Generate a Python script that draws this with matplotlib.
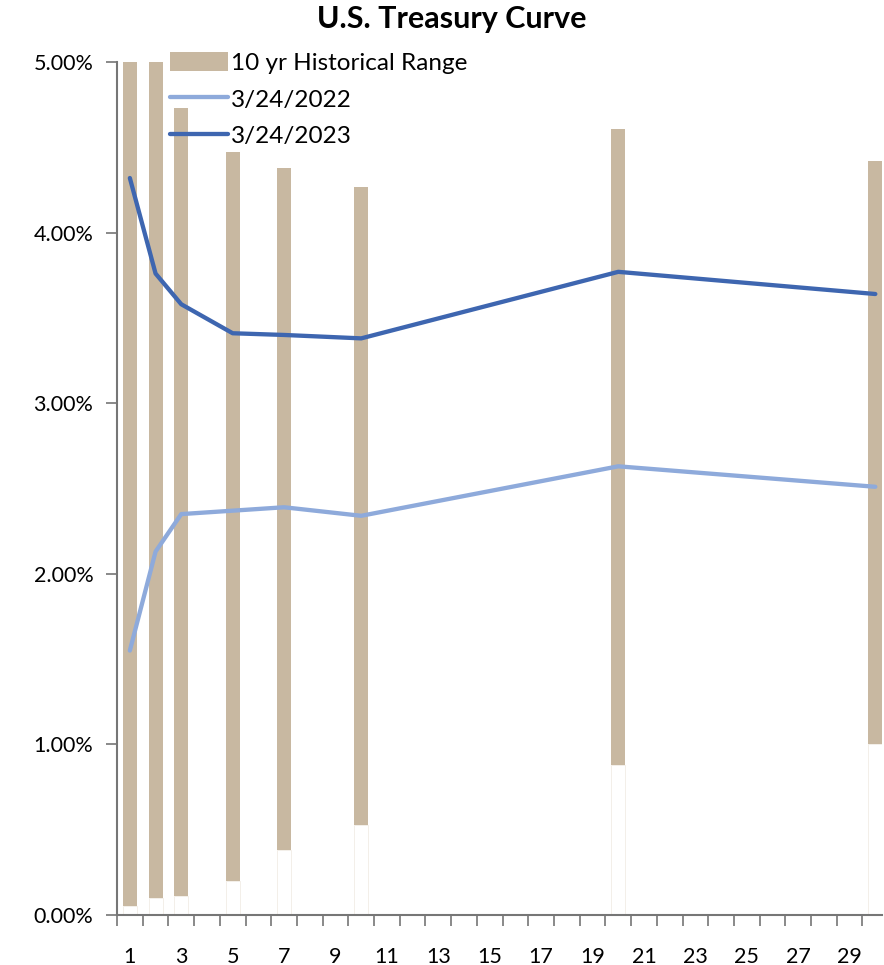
import numpy as np
import matplotlib.pyplot as plt
from matplotlib.ticker import FixedLocator, PercentFormatter

plt.rcParams['font.family'] = ['Lato', 'DejaVu Sans']

# Treasury maturities (years) and yields in percent
maturities = [1, 2, 3, 5, 7, 10, 20, 30]
range_low = [0.05, 0.10, 0.11, 0.20, 0.38, 0.53, 0.88, 1.00]
range_high = [5.25, 5.10, 4.73, 4.47, 4.38, 4.27, 4.61, 4.42]
yields_2022 = [1.55, 2.13, 2.35, 2.37, 2.39, 2.34, 2.63, 2.51]
yields_2023 = [4.32, 3.76, 3.58, 3.41, 3.40, 3.38, 3.77, 3.64]
x_labels = list(range(1, 30, 2))

TAN = '#c8b8a1'
LIGHT_BLUE = '#8eaadb'
DARK_BLUE = '#3e66b0'
AXIS_GRAY = '#767676'


def main():
    fig = plt.figure(figsize=(8.84, 9.65), dpi=100)
    ax = fig.add_axes([117 / 884, 50 / 965, 765 / 884, 853 / 965])

    x = np.array(maturities)
    low = np.array(range_low)
    high = np.array(range_high)
    width = 0.545

    # invisible base bar, historical range stacked on top
    ax.bar(x, low, width=width, color='white', edgecolor='#f1ece5', linewidth=0.6, zorder=1)
    bars = ax.bar(x, high - low, bottom=low, width=width, color=TAN, linewidth=0,
                  label='10 yr Historical Range', zorder=2)

    line22, = ax.plot(x, yields_2022, color=LIGHT_BLUE, lw=3.1, solid_capstyle='round',
                      label='3/24/2022', zorder=3)
    line23, = ax.plot(x, yields_2023, color=DARK_BLUE, lw=3.1, solid_capstyle='round',
                      label='3/24/2023', zorder=4)

    ax.set_xlim(0.5, 30.26)
    ax.set_ylim(0, 5)

    ax.set_yticks(np.arange(0, 5.01, 1))
    ax.yaxis.set_major_formatter(PercentFormatter(decimals=2))
    ax.tick_params(axis='y', direction='out', length=8, width=1.2, color=AXIS_GRAY,
                   labelsize=15.5, pad=9)

    # labels on every other category, tick marks between categories
    ax.set_xticks(x_labels)
    ax.set_xticklabels([str(v) for v in x_labels])
    ax.xaxis.set_minor_locator(FixedLocator(np.arange(0.5, 30.0, 1)))
    ax.tick_params(axis='x', which='major', length=0, labelsize=15.5, pad=23)
    ax.tick_params(axis='x', which='minor', direction='out', length=8, width=1.2,
                   color=AXIS_GRAY)

    for side in ('top', 'right'):
        ax.spines[side].set_visible(False)
    for side in ('left', 'bottom'):
        ax.spines[side].set_color(AXIS_GRAY)
        ax.spines[side].set_linewidth(1.5)

    ax.legend(handles=[bars, line22, line23], loc='upper left',
              bbox_to_anchor=(0.069, 1.012), frameon=False,
              fontsize=17.5, handlelength=2.4, handleheight=0.87,
              handletextpad=0.12, labelspacing=0.59, borderpad=0, borderaxespad=0)

    fig.text(452 / 884, 1 - 19 / 965, 'U.S. Treasury Curve', ha='center', va='center',
             fontsize=22, fontweight='bold')

    fig.savefig('out.png', dpi=100)
    plt.close(fig)


if __name__ == "__main__":
    main()
